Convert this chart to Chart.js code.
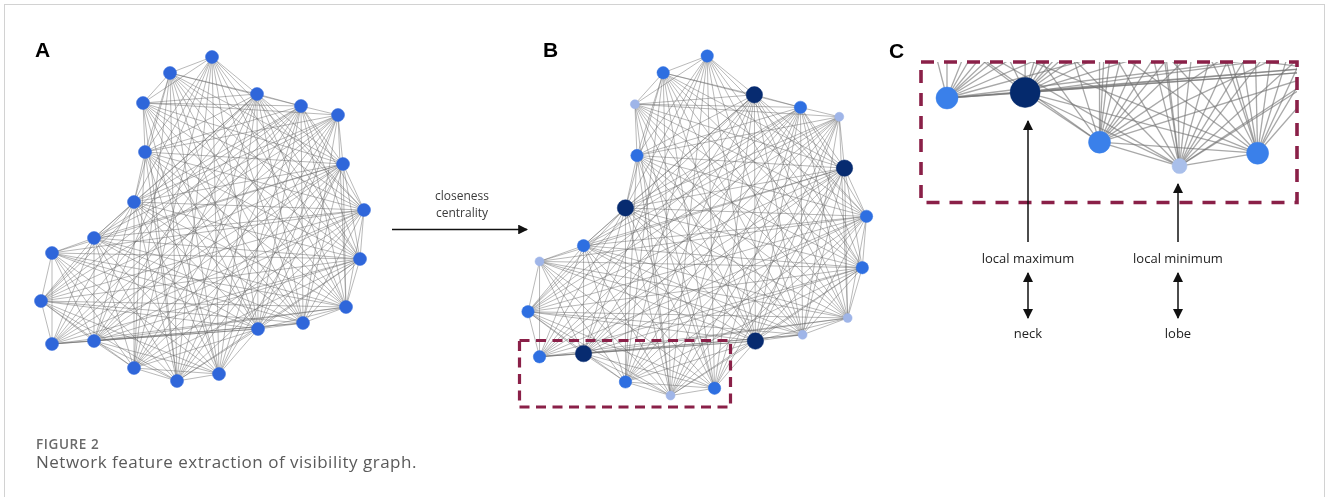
<!DOCTYPE html>
<html>
<head>
<meta charset="utf-8">
<script src="https://cdn.jsdelivr.net/npm/chart.js@4.4.1/dist/chart.umd.min.js"></script>
<style>
  html, body { margin: 0; padding: 0; background: #fff; }
  body { width: 1328px; height: 497px; position: relative; overflow: hidden; }
  .frame { position: absolute; left: 4px; top: 4px; width: 1319px; height: 520px;
           border: 1.5px solid #d2d2d2; border-bottom: none; }
  .panel { position: absolute; }
  .panel canvas { display: block; }
  svg.over { position: absolute; left: 0; top: 0; pointer-events: none; }
</style>
</head>
<body>
<div class="frame"></div>
<div class="panel" id="pA" style="left:0px;top:0px;width:440px;height:420px"><canvas id="cA" width="440" height="420"></canvas></div>
<div class="panel" id="pB" style="left:440px;top:0px;width:480px;height:420px"><canvas id="cB" width="480" height="420"></canvas></div>
<div class="panel" id="pC" style="left:921px;top:62px;width:376px;height:141px"><canvas id="cC" width="376" height="141"></canvas></div>

<svg class="over" width="1328" height="497" xmlns="http://www.w3.org/2000/svg">
  <defs>
    <marker id="ah" viewBox="0 0 10 10" refX="9" refY="5" markerWidth="7" markerHeight="7" orient="auto-start-reverse">
      <path d="M0,0 L10,5 L0,10 z" fill="#111"/>
    </marker>
  </defs>
  <!-- panel letters -->
  <g font-family="'Liberation Sans', Arial, sans-serif" font-weight="bold" font-size="21" fill="#000">
    <text x="35" y="57">A</text>
    <text x="543" y="57">B</text>
    <text x="889" y="58">C</text>
  </g>

  <!-- transform arrow between A and B -->
  <g font-family="'Open Sans', sans-serif" font-size="12" fill="#3a3a3a" text-anchor="middle">
    <text x="462" y="200">closeness</text>
    <text x="462" y="217">centrality</text>
  </g>
  <line x1="392" y1="229.5" x2="527" y2="229.5" stroke="#111" stroke-width="1.4" marker-end="url(#ah)"/>

  <!-- selection boxes -->
  <rect x="519.5" y="340.5" width="211" height="66.5" fill="none" stroke="#8a2048" stroke-width="3.2" stroke-dasharray="10 6.5"/>
  <rect x="921" y="62" width="376" height="140.5" fill="none" stroke="#8a2048" stroke-width="3.6" stroke-dasharray="13 10"/>

  <!-- C annotations -->
  <line x1="1028" y1="242" x2="1028" y2="121" stroke="#111" stroke-width="1.5" marker-end="url(#ah)"/>
  <line x1="1178" y1="242" x2="1178" y2="184" stroke="#111" stroke-width="1.5" marker-end="url(#ah)"/>
  <line x1="1028" y1="273" x2="1028" y2="318" stroke="#111" stroke-width="1.5" marker-start="url(#ah)" marker-end="url(#ah)"/>
  <line x1="1178" y1="273" x2="1178" y2="318" stroke="#111" stroke-width="1.5" marker-start="url(#ah)" marker-end="url(#ah)"/>
  <g font-family="'Open Sans', sans-serif" font-size="13" fill="#222" text-anchor="middle">
    <text x="1028" y="263">local maximum</text>
    <text x="1178" y="263">local minimum</text>
    <text x="1028" y="338">neck</text>
    <text x="1178" y="338">lobe</text>
  </g>

  <!-- caption -->
  <text x="36" y="449" font-family="'Open Sans', sans-serif" font-weight="600" font-size="13.5" fill="#6a6a6a" letter-spacing="0.6">FIGURE 2</text>
  <text x="36" y="468" font-family="'Open Sans', sans-serif" font-size="17" fill="#5a5a5a" letter-spacing="0.5">Network feature extraction of visibility graph.</text>
</svg>

<script>
// Contour points of the cell outline, listed in order around the boundary
const nodeX = [212, 257, 301, 338, 343, 364, 360, 346, 303, 258, 219, 177, 134, 94, 52, 41, 52, 94, 134, 145, 143, 170];
const nodeY = [57, 94, 106, 115, 164, 210, 259, 307, 323, 329, 374, 381, 368, 341, 344, 301, 253, 238, 202, 152, 103, 73];
// Closeness centrality class of each contour point: 0 low, 1 mid, 2 high
const closeness = [1, 2, 1, 0, 2, 1, 1, 0, 0, 2, 1, 0, 1, 2, 1, 1, 0, 1, 2, 1, 0, 1];

const N = nodeX.length;
const pts = nodeX.map((x, i) => [x, nodeY[i]]);

// --- visibility graph: two contour points are linked when the chord lies inside the outline
function orient(a, b, c) { return (b[0] - a[0]) * (c[1] - a[1]) - (b[1] - a[1]) * (c[0] - a[0]); }
function crosses(p1, p2, p3, p4) {
  const d1 = orient(p3, p4, p1), d2 = orient(p3, p4, p2);
  const d3 = orient(p1, p2, p3), d4 = orient(p1, p2, p4);
  return ((d1 > 0 && d2 < 0) || (d1 < 0 && d2 > 0)) && ((d3 > 0 && d4 < 0) || (d3 < 0 && d4 > 0));
}
function insidePoly(p) {
  let inside = false;
  for (let i = 0, j = N - 1; i < N; j = i++) {
    const [xi, yi] = pts[i], [xj, yj] = pts[j];
    if ((yi > p[1]) !== (yj > p[1]) && p[0] < (xj - xi) * (p[1] - yi) / (yj - yi) + xi) inside = !inside;
  }
  return inside;
}
function visible(i, j) {
  if ((j - i + N) % N === 1 || (i - j + N) % N === 1) return true;
  for (let k = 0; k < N; k++) {
    const k2 = (k + 1) % N;
    if (k === i || k === j || k2 === i || k2 === j) continue;
    if (crosses(pts[i], pts[j], pts[k], pts[k2])) return false;
  }
  for (const t of [0.25, 0.5, 0.75]) {
    const m = [pts[i][0] + t * (pts[j][0] - pts[i][0]), pts[i][1] + t * (pts[j][1] - pts[i][1])];
    if (!insidePoly(m)) return false;
  }
  return true;
}
const edges = [];
for (let i = 0; i < N; i++) for (let j = i + 1; j < N; j++) if (visible(i, j)) edges.push([i, j]);

// --- one scatter chart per panel; the outline units are mapped to pixels by (origin, scale)
function makePanel(canvasId, panelLeft, panelTop, w, h, ox, oy, sx, sy, style) {
  const toX = px => (px - ox) / sx;
  const toY = py => (py - oy) / sy;
  const datasets = [];
  datasets.push({
    data: pts.map(p => ({ x: p[0], y: p[1] })),
    showLine: false,
    pointRadius: closeness.map(c => style.radius[c]),
    pointHoverRadius: closeness.map(c => style.radius[c]),
    pointBackgroundColor: closeness.map(c => style.color[c]),
    pointBorderColor: closeness.map(c => style.color[c]),
    pointBorderWidth: 0.5,
    clip: style.clip,
    order: 0
  });
  edges.forEach(([a, b]) => {
    datasets.push({
      data: [{ x: pts[a][0], y: pts[a][1] }, { x: pts[b][0], y: pts[b][1] }],
      showLine: true,
      pointRadius: 0,
      borderColor: style.edge,
      borderWidth: style.edgeWidth,
      clip: style.clip,
      order: 1
    });
  });
  return new Chart(document.getElementById(canvasId), {
    type: 'scatter',
    data: { datasets },
    options: {
      responsive: false,
      animation: false,
      events: [],
      layout: { padding: 0, autoPadding: false },
      plugins: { legend: { display: false }, tooltip: { enabled: false } },
      scales: {
        x: { type: 'linear', display: false, min: toX(panelLeft), max: toX(panelLeft + w) },
        y: { type: 'linear', display: false, reverse: true, min: toY(panelTop), max: toY(panelTop + h) }
      }
    }
  });
}

// A: plain graph, all nodes the same
makePanel('cA', 0, 0, 440, 420, 0, 0, 1, 1, {
  radius: [6.5, 6.5, 6.5], color: ['#2f66da', '#2f66da', '#2f66da'],
  edge: 'rgba(100,100,100,0.5)', edgeWidth: 0.9, clip: false
});
// B: nodes coloured by closeness centrality
makePanel('cB', 440, 0, 480, 420, 485.03, -3.74, 1.048, 1.048, {
  radius: [4.5, 6.2, 8.2], color: ['#9fb5e8', '#2e6fe1', '#072b70'],
  edge: 'rgba(100,100,100,0.5)', edgeWidth: 0.9, clip: false
});
// C: close-up of the boxed part of B
makePanel('cC', 921, 62, 376, 141, 850.28, -534.96, 1.86, 1.84, {
  radius: [7.5, 11, 15], color: ['#a9bfea', '#3a80ea', '#052a6d'],
  edge: 'rgba(115,115,115,0.62)', edgeWidth: 1.3, clip: 0
});
</script>
</body>
</html>
